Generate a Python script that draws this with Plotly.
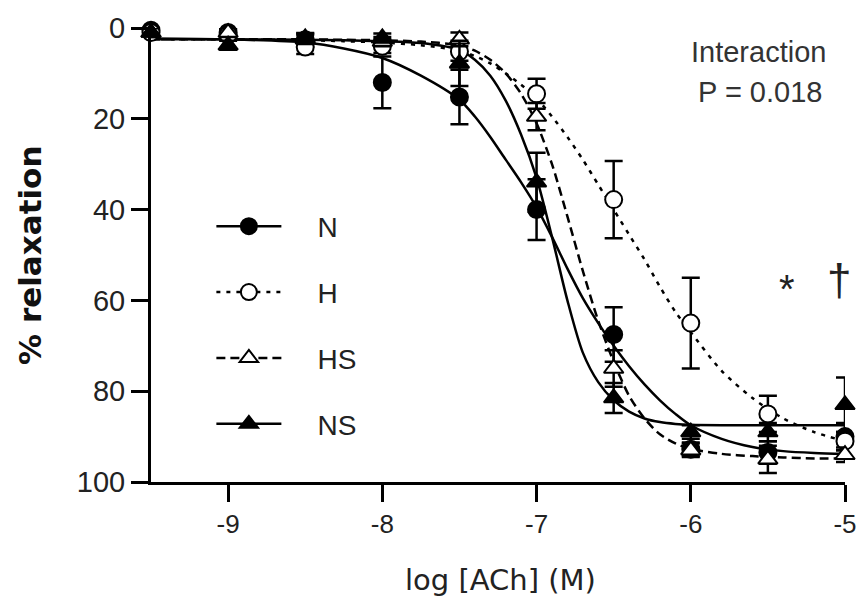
import plotly.graph_objects as go

# ---------------- data ----------------
log_ach = [-9.5, -9, -8.5, -8, -7.5, -7, -6.5, -6, -5.5, -5]

n_mean = [0.5, 1.0, 2.6, 12.0, 15.2, 40.0, 67.5, 92.8, 93.5, 90.0]
n_sem = [0.8, 1.0, 1.5, 5.7, 6.0, 6.7, 6.0, 1.5, 2.5, 3.0]

h_mean = [1.0, 1.5, 4.2, 4.0, 5.2, 14.5, 37.8, 65.0, 85.0, 91.0]
h_sem = [1.0, 1.0, 1.5, 1.5, 2.0, 3.3, 8.5, 10.0, 4.0, 2.0]

hs_mean = [1.0, 1.0, 2.2, 3.0, 2.5, 19.5, 75.0, 93.0, 95.0, 94.0]
hs_sem = [1.0, 1.0, 1.0, 1.0, 1.5, 3.0, 4.0, 1.5, 3.0, 1.6]

ns_mean = [1.0, 3.8, 2.5, 2.2, 7.8, 34.0, 81.5, 89.0, 89.0, 83.0]
ns_sem = [1.0, 1.0, 1.0, 1.0, 5.0, 6.5, 3.3, 1.5, 2.0, 6.0]

# fitted curves on a grid
curve_x = [-9.5, -9, -8.5, -8.25, -8, -7.75, -7.5, -7.4, -7.3, -7.2, -7.1, -7,
           -6.9, -6.8, -6.7, -6.6, -6.5, -6.4, -6.3, -6.2, -6.1, -6,
           -5.8, -5.6, -5.4, -5.2, -5]
n_curve = [2.3, 2.5, 3.2, 4.5, 6.6, 10.5, 15.8, 19.5, 24, 29, 34, 39.5,
           46, 53, 59.5, 65, 70, 74.5, 78.5, 82, 85, 87.5,
           90.5, 92.3, 93.2, 93.6, 93.8]
h_curve = [2.5, 2.5, 2.7, 2.9, 3.2, 3.8, 5, 6.2, 7.8, 10, 12.5, 15.5,
           19.5, 24, 29, 34.5, 40, 45.5, 51, 57, 62.5, 67,
           75.5, 81.5, 86, 89, 91]
hs_curve = [2.5, 2.5, 2.5, 2.6, 2.7, 3, 3.8, 5, 7, 10, 14.5, 21,
            30, 41.5, 53.5, 64.5, 73.5, 81, 86, 89.5, 91.5, 92.7,
            93.8, 94.3, 94.6, 94.8, 94.8]
ns_curve = [2.5, 2.5, 2.6, 2.7, 2.9, 3.3, 4.8, 7, 10.5, 16, 23.5, 33,
            46, 60, 71.5, 78, 82, 84.5, 86, 86.8, 87.2, 87.4,
            87.5, 87.5, 87.5, 87.5, 87.5]

series_names = ["N", "H", "HS", "NS"]
x_ticks = [-9, -8, -7, -6, -5]
x_tick_text = ["-9", "-8", "-7", "-6", "-5"]
y_ticks = [0, 20, 40, 60, 80, 100]
y_tick_text = ["0", "20", "40", "60", "80", "100"]

# ---------------- styles ----------------
styles = {
    "N": dict(symbol="circle", fill="black", dash="solid"),
    "H": dict(symbol="circle", fill="white", dash="4px,6px"),
    "HS": dict(symbol="triangle-up", fill="white", dash="9px,5px"),
    "NS": dict(symbol="triangle-up", fill="black", dash="solid"),
}
means = {"N": n_mean, "H": h_mean, "HS": hs_mean, "NS": ns_mean}
sems = {"N": n_sem, "H": h_sem, "HS": hs_sem, "NS": ns_sem}
curves = {"N": n_curve, "H": h_curve, "HS": hs_curve, "NS": ns_curve}

fig = go.Figure()

# curves
for name in series_names:
    st = styles[name]
    fig.add_trace(go.Scatter(
        x=curve_x, y=curves[name], mode="lines",
        line=dict(color="black", width=2.5, dash=st["dash"], shape="spline", smoothing=0.8),
        showlegend=False, hoverinfo="skip"))

# points with error bars
for name in series_names:
    st = styles[name]
    fig.add_trace(go.Scatter(
        x=log_ach, y=means[name], mode="markers",
        marker=dict(symbol=st["symbol"], size=17, color=st["fill"],
                    line=dict(color="black", width=2)),
        error_y=dict(type="data", array=sems[name], visible=True,
                     color="black", thickness=2.5, width=9),
        cliponaxis=False, showlegend=False))

# legend entries
pad = "\u00a0\u00a0\u00a0\u00a0"
for name in series_names:
    st = styles[name]
    fig.add_trace(go.Scatter(
        x=[None], y=[None], mode="lines+markers", name=pad + name,
        legendgroup=name,
        line=dict(color="black", width=2.5, dash=st["dash"]),
        marker=dict(symbol=st["symbol"], size=17, color=st["fill"],
                    line=dict(color="black", width=2))))

axis_common = dict(
    showline=True, linecolor="black", linewidth=3,
    ticks="outside", ticklen=17, tickwidth=3, tickcolor="black",
    showgrid=False, zeroline=False, ticklabeloverflow="allow", automargin=False,
)

fig.update_layout(
    width=859, height=596,
    margin=dict(l=151, r=14, t=28, b=114, autoexpand=False),
    plot_bgcolor="white", paper_bgcolor="white",
    font=dict(family="Liberation Sans, Arial", color="#222"),
    xaxis=dict(range=[-9.5, -5], tickvals=x_ticks, ticktext=x_tick_text,
               tickfont=dict(family="Liberation Sans, Arial", size=26, color="#222"),
               **axis_common),
    yaxis=dict(range=[100, 0], tickvals=y_ticks, ticktext=y_tick_text,
               tickfont=dict(family="Liberation Sans, Arial", size=29, color="#222"),
               **axis_common),
    legend=dict(x=0.087, y=0.618, xanchor="left", yanchor="top",
                font=dict(family="Liberation Sans, Arial", size=28, color="#222"),
                tracegroupgap=26.5, itemwidth=65, bgcolor="rgba(0,0,0,0)"),
    showlegend=True,
)

fig.add_annotation(text="Interaction", xref="paper", yref="paper", x=0.875, y=0.947,
                   xanchor="center", yanchor="middle",
                   showarrow=False, font=dict(size=29, color="#333"))
fig.add_annotation(text="P = 0.018", xref="paper", yref="paper", x=0.878, y=0.859,
                   xanchor="center", yanchor="middle",
                   showarrow=False, font=dict(size=29, color="#333"))
fig.add_annotation(text="*", xref="paper", yref="paper", x=0.917, y=0.425,
                   xanchor="center", yanchor="middle",
                   showarrow=False, font=dict(size=40, color="#222"))
fig.add_annotation(text="†", xref="paper", yref="paper", x=0.991, y=0.445,
                   xanchor="center", yanchor="middle",
                   showarrow=False, font=dict(size=44, color="#222"))
fig.add_annotation(text="<b>% relaxation</b>", xref="paper", yref="paper", x=-0.1744, y=0.5,
                   xanchor="center", yanchor="middle",
                   textangle=-90, showarrow=False,
                   font=dict(family="DejaVu Sans", size=31, color="#111"))
fig.add_annotation(text="log [ACh] (M)", xref="paper", yref="paper", x=0.503, y=-0.216,
                   xanchor="center", yanchor="middle",
                   showarrow=False,
                   font=dict(family="DejaVu Sans", size=29, color="#222"))

fig.write_html("out.html",
               config={"displayModeBar": False},
               post_script="document.body.style.margin='0';document.body.style.overflow='hidden';")
